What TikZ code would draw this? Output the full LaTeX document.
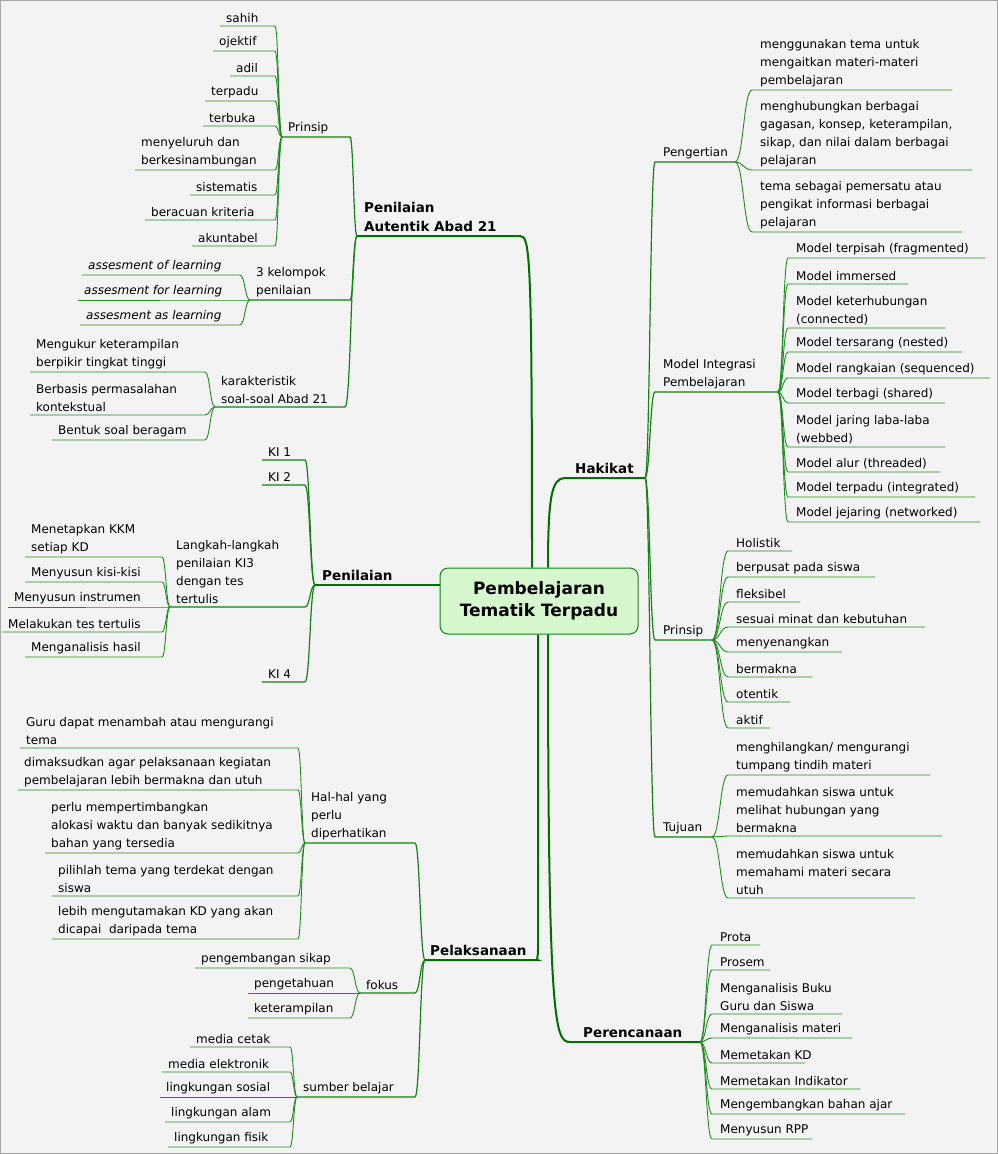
\documentclass[tikz,border=0pt]{standalone}
\usepackage{fontspec}
\setmainfont{DejaVu Sans}
\definecolor{mainc}{RGB}{0,110,0}
\definecolor{subc}{RGB}{20,130,20}
\definecolor{leafc}{RGB}{30,140,30}
\definecolor{bgc}{RGB}{243,243,243}
\definecolor{cfill}{RGB}{214,246,206}
\tikzset{
 txt/.style={inner sep=0pt,align=left,font=\fontsize{12}{18}\selectfont},
 mtxt/.style={inner sep=0pt,align=left,font=\fontsize{13.5}{19}\selectfont\bfseries},
 mainl/.style={draw=mainc,line width=2pt},
 sub/.style={draw=subc,line width=1.2pt},
 leaf/.style={draw=leafc,line width=0.9pt},
}
% right leaf: name, parent, px, py, x1, x2, y, style, text
\newcommand\Rt[9]{%
 \coordinate (#1-l) at (#5,#7); \coordinate (#1-r) at (#6,#7);
 \draw[#8] (#2) .. controls ({(#3+#5)/2},#4) and ({(#3+#5)/2},#7) .. (#1-l) -- (#1-r);
 \node[txt,anchor=south west] (#1) at ([shift={(8,-3)}]#1-l) {#9};}
% left leaf: name, parent, px, py, xr, xl, y, style, text
\newcommand\Lf[9]{%
 \coordinate (#1-r) at (#5,#7); \coordinate (#1-l) at (#6,#7);
 \draw[#8] (#2) .. controls ({(#3+#5)/2},#4) and ({(#3+#5)/2},#7) .. (#1-r) -- (#1-l);
 \node[txt,anchor=south west] (#1) at ([shift={(6,-3)}]#1-l) {#9};}
\begin{document}
\begin{tikzpicture}[x=1pt,y=-1pt]
\fill[bgc] (0,0) rectangle (998,1154);
\draw[gray!70,line width=1pt] (0.5,0.5) rectangle (997.5,1153.5);
\useasboundingbox (0,0) rectangle (998,1154);
% center
\node[draw=subc,fill=cfill,rounded corners=8pt,line width=1pt,minimum width=198pt,minimum height=66pt,align=center,font=\fontsize{17}{22}\selectfont\bfseries] (c) at (539,601) {Pembelajaran\\Tematik Terpadu};
% main branches
\coordinate (hak-l) at (565,478); \coordinate (hak-r) at (645,478);
\draw[mainl] (c.north -| 548,0) .. controls (548,495) and (552,478) .. (hak-l) -- (hak-r);
\node[mtxt,anchor=south west] (hak) at (575,474) {Hakikat};
\coordinate (pr-l) at (570,1042); \coordinate (pr-r) at (700,1042);
\draw[mainl] (c.south -| 548,0) .. controls (548,1025) and (555,1042) .. (pr-l) -- (pr-r);
\node[mtxt,anchor=south west] (pr) at (583,1038) {Perencanaan};
\coordinate (pl-r) at (538,960); \coordinate (pl-l) at (425,960);
\draw[mainl] (c.south -| 538,0) -- (538,950) .. controls (538,958) and (536,960) .. (pl-r) -- (pl-l);
\node[mtxt,anchor=south west] (pl) at (430,956) {Pelaksanaan};
\coordinate (pn-r) at (440,585); \coordinate (pn-l) at (315,585);
\draw[mainl] (c.west |- pn-r) -- (pn-l);
\node[mtxt,anchor=south west] (pn) at (322,581) {Penilaian};
\coordinate (pa-r) at (520,236); \coordinate (pa-l) at (357,236);
\draw[mainl] (c.north -| 532,0) .. controls (532,252) and (530,236) .. (pa-r) -- (pa-l);
\node[mtxt,anchor=south west] (pa) at (364,232) {Penilaian\\Autentik Abad 21};
% Hakikat
\Rt{peng}{hak-r}{645}{478}{655}{735}{162}{sub}{Pengertian}
\Rt{mi}{hak-r}{645}{478}{655}{778}{392}{sub}{Model Integrasi\\Pembelajaran}
\Rt{hp}{hak-r}{645}{478}{655}{712}{640}{sub}{Prinsip}
\Rt{tj}{hak-r}{645}{478}{655}{712}{837}{sub}{Tujuan}
\Rt{p1}{peng-r}{735}{162}{752}{952}{90}{leaf}{menggunakan tema untuk\\mengaitkan materi-materi\\pembelajaran}
\Rt{p2}{peng-r}{735}{162}{752}{972}{170}{leaf}{menghubungkan berbagai\\gagasan, konsep, keterampilan,\\sikap, dan nilai dalam berbagai\\pelajaran}
\Rt{p3}{peng-r}{735}{162}{752}{962}{232}{leaf}{tema sebagai pemersatu atau\\pengikat informasi berbagai\\pelajaran}
\Rt{m1}{mi-r}{778}{392}{788}{985}{258}{leaf}{Model terpisah (fragmented)}
\Rt{m2}{mi-r}{778}{392}{788}{908}{284}{leaf}{Model immersed}
\Rt{m3}{mi-r}{778}{392}{788}{945}{328}{leaf}{Model keterhubungan\\(connected)}
\Rt{m4}{mi-r}{778}{392}{788}{962}{352}{leaf}{Model tersarang (nested)}
\Rt{m5}{mi-r}{778}{392}{788}{990}{378}{leaf}{Model rangkaian (sequenced)}
\Rt{m6}{mi-r}{778}{392}{788}{945}{403}{leaf}{Model terbagi (shared)}
\Rt{m7}{mi-r}{778}{392}{788}{945}{447}{leaf}{Model jaring laba-laba\\(webbed)}
\Rt{m8}{mi-r}{778}{392}{788}{940}{472}{leaf}{Model alur (threaded)}
\Rt{m9}{mi-r}{778}{392}{788}{975}{497}{leaf}{Model terpadu (integrated)}
\Rt{m10}{mi-r}{778}{392}{788}{980}{522}{leaf}{Model jejaring (networked)}
\Rt{h1}{hp-r}{712}{640}{728}{792}{551}{leaf}{Holistik}
\Rt{h2}{hp-r}{712}{640}{728}{875}{577}{leaf}{berpusat pada siswa}
\Rt{h3}{hp-r}{712}{640}{728}{800}{602}{leaf}{fleksibel}
\Rt{h4}{hp-r}{712}{640}{728}{925}{627}{leaf}{sesuai minat dan kebutuhan}
\Rt{h5}{hp-r}{712}{640}{728}{842}{652}{leaf}{menyenangkan}
\Rt{h6}{hp-r}{712}{640}{728}{812}{677}{leaf}{bermakna}
\Rt{h7}{hp-r}{712}{640}{728}{790}{702}{leaf}{otentik}
\Rt{h8}{hp-r}{712}{640}{728}{770}{728}{leaf}{aktif}
\Rt{t1}{tj-r}{712}{837}{728}{930}{775}{leaf}{menghilangkan/ mengurangi\\tumpang tindih materi}
\Rt{t2}{tj-r}{712}{837}{728}{942}{836}{leaf}{memudahkan siswa untuk\\melihat hubungan yang\\bermakna}
\Rt{t3}{tj-r}{712}{837}{728}{915}{898}{leaf}{memudahkan siswa untuk\\memahami materi secara\\utuh}
% Perencanaan
\Rt{r1}{pr-r}{700}{1042}{712}{760}{945}{leaf}{Prota}
\Rt{r2}{pr-r}{700}{1042}{712}{770}{970}{leaf}{Prosem}
\Rt{r3}{pr-r}{700}{1042}{712}{842}{1014}{leaf}{Menganalisis Buku\\Guru dan Siswa}
\Rt{r4}{pr-r}{700}{1042}{712}{852}{1038}{leaf}{Menganalisis materi}
\Rt{r5}{pr-r}{700}{1042}{712}{805}{1063}{leaf}{Memetakan KD}
\Rt{r6}{pr-r}{700}{1042}{712}{860}{1089}{leaf}{Memetakan Indikator}
\Rt{r7}{pr-r}{700}{1042}{712}{905}{1114}{leaf}{Mengembangkan bahan ajar}
\Rt{r8}{pr-r}{700}{1042}{712}{812}{1139}{leaf}{Menyusun RPP}
% Penilaian Autentik
\Lf{ap}{pa-l}{357}{236}{350}{282}{137}{sub}{Prinsip}
\Lf{ak}{pa-l}{357}{236}{350}{250}{300}{sub}{3 kelompok\\penilaian}
\Lf{ac}{pa-l}{357}{236}{345}{215}{407}{sub}{karakteristik\\soal-soal Abad 21}
\Lf{a1}{ap-l}{282}{137}{275}{220}{26}{leaf}{sahih}
\Lf{a2}{ap-l}{282}{137}{275}{213}{51}{leaf}{ojektif}
\Lf{a3}{ap-l}{282}{137}{275}{230}{76}{leaf}{adil}
\Lf{a4}{ap-l}{282}{137}{275}{205}{101}{leaf}{terpadu}
\Lf{a5}{ap-l}{282}{137}{275}{203}{126}{leaf}{terbuka}
\Lf{a6}{ap-l}{282}{137}{275}{135}{170}{leaf}{menyeluruh dan\\berkesinambungan}
\Lf{a7}{ap-l}{282}{137}{275}{190}{195}{leaf}{sistematis}
\Lf{a8}{ap-l}{282}{137}{275}{145}{220}{leaf}{beracuan kriteria}
\Lf{a9}{ap-l}{282}{137}{275}{192}{246}{leaf}{akuntabel}
\Lf{g1}{ak-l}{250}{300}{240}{82}{275}{leaf}{\itshape assesment of learning}
\Lf{g2}{ak-l}{250}{300}{240}{78}{300}{leaf}{\itshape assesment for learning}
\Lf{g3}{ak-l}{250}{300}{240}{80}{325}{leaf}{\itshape assesment as learning}
\Lf{s1}{ac-l}{215}{407}{205}{30}{372}{leaf}{Mengukur keterampilan\\berpikir tingkat tinggi}
\Lf{s2}{ac-l}{215}{407}{205}{30}{415}{leaf}{Berbasis permasalahan\\kontekstual}
\Lf{s3}{ac-l}{215}{407}{205}{52}{440}{leaf}{Bentuk soal beragam}
% Penilaian
\Lf{k1}{pn-l}{315}{585}{305}{262}{460}{sub}{KI 1}
\Lf{k2}{pn-l}{315}{585}{305}{262}{485}{sub}{KI 2}
\Lf{lk}{pn-l}{315}{585}{305}{170}{607}{sub}{Langkah-langkah\\penilaian KI3\\dengan tes\\tertulis}
\Lf{k4}{pn-l}{315}{585}{305}{262}{682}{sub}{KI 4}
\Lf{l1}{lk-l}{170}{607}{162}{25}{557}{leaf}{Menetapkan KKM\\setiap KD}
\Lf{l2}{lk-l}{170}{607}{162}{25}{582}{leaf}{Menyusun kisi-kisi}
\Lf{l3}{lk-l}{170}{607}{162}{8}{607}{leaf}{Menyusun instrumen}
\Lf{l4}{lk-l}{170}{607}{162}{2}{632}{leaf}{Melakukan tes tertulis}
\Lf{l5}{lk-l}{170}{607}{162}{25}{657}{leaf}{Menganalisis hasil}
% Pelaksanaan
\Lf{hal}{pl-l}{425}{960}{415}{305}{843}{sub}{Hal-hal yang\\perlu\\diperhatikan}
\Lf{fk}{pl-l}{425}{960}{415}{360}{993}{sub}{fokus}
\Lf{sb}{pl-l}{425}{960}{415}{297}{1097}{sub}{sumber belajar}
\Lf{e1}{hal-l}{305}{843}{298}{20}{748}{leaf}{Guru dapat menambah atau mengurangi\\tema}
\Lf{e2}{hal-l}{305}{843}{298}{18}{790}{leaf}{dimaksudkan agar pelaksanaan kegiatan\\pembelajaran lebih bermakna dan utuh}
\Lf{e3}{hal-l}{305}{843}{298}{45}{853}{leaf}{perlu mempertimbangkan\\alokasi waktu dan banyak sedikitnya\\bahan yang tersedia}
\Lf{e4}{hal-l}{305}{843}{298}{52}{896}{leaf}{pilihlah tema yang terdekat dengan\\siswa}
\Lf{e5}{hal-l}{305}{843}{298}{52}{939}{leaf}{lebih mengutamakan KD yang akan\\dicapai\ \ daripada tema}
\Lf{f1}{fk-l}{360}{993}{350}{195}{968}{leaf}{pengembangan sikap}
\Lf{f2}{fk-l}{360}{993}{350}{248}{993}{leaf}{pengetahuan}
\Lf{f3}{fk-l}{360}{993}{350}{248}{1018}{leaf}{keterampilan}
\Lf{b1}{sb-l}{297}{1097}{290}{190}{1047}{leaf}{media cetak}
\Lf{b2}{sb-l}{297}{1097}{290}{162}{1072}{leaf}{media elektronik}
\Lf{b3}{sb-l}{297}{1097}{290}{160}{1097}{leaf}{lingkungan sosial}
\Lf{b4}{sb-l}{297}{1097}{290}{165}{1122}{leaf}{lingkungan alam}
\Lf{b5}{sb-l}{297}{1097}{290}{168}{1147}{leaf}{lingkungan fisik}
\end{tikzpicture}
\end{document}
